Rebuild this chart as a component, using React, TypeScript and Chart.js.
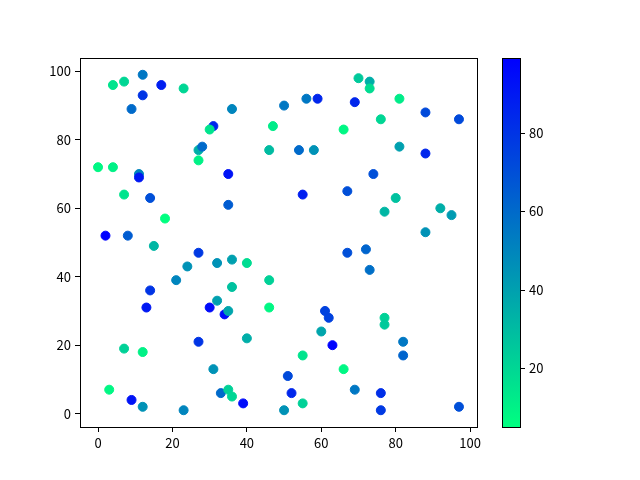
import React, { useEffect, useRef } from "react";
import { Chart, registerables } from "chart.js";

Chart.register(...registerables);

const xs = [4, 7, 12, 17, 23, 12, 9, 36, 31, 30, 47, 27, 28, 27, 0, 4, 11, 11, 35, 70, 73, 73, 81, 50, 56, 59, 69, 88, 97, 76, 66, 54, 58, 81, 88, 74, 46, 7, 14, 35, 18, 2, 8, 15, 27, 24, 32, 36, 40, 21, 46, 36, 14, 32, 13, 30, 46, 55, 67, 80, 77, 92, 95, 88, 67, 72, 73, 34, 35, 7, 12, 27, 40, 31, 3, 9, 12, 23, 33, 35, 36, 39, 61, 62, 60, 63, 77, 77, 82, 82, 55, 66, 51, 52, 55, 50, 69, 76, 76, 97];
const ys = [96, 97, 99, 96, 95, 93, 89, 89, 84, 83, 84, 77, 78, 74, 72, 72, 70, 69, 70, 98, 97, 95, 92, 90, 92, 92, 91, 88, 86, 86, 83, 77, 77, 78, 76, 70, 77, 64, 63, 61, 57, 52, 52, 49, 47, 43, 44, 45, 44, 39, 39, 37, 36, 33, 31, 31, 31, 64, 65, 63, 59, 60, 58, 53, 47, 48, 42, 29, 30, 19, 18, 21, 22, 13, 7, 4, 2, 1, 6, 7, 5, 3, 30, 28, 24, 20, 28, 26, 21, 17, 17, 13, 11, 6, 3, 1, 7, 6, 1, 2];
const cs = [15, 20, 55, 88, 20, 80, 60, 50, 85, 15, 12, 35, 60, 10, 8, 10, 50, 90, 92, 25, 35, 18, 12, 55, 55, 85, 85, 72, 72, 20, 8, 60, 45, 40, 85, 70, 30, 15, 70, 65, 5, 99, 65, 32, 78, 45, 45, 40, 18, 50, 22, 28, 80, 40, 90, 95, 8, 88, 70, 28, 32, 35, 42, 45, 70, 62, 58, 95, 38, 22, 10, 80, 35, 45, 8, 92, 45, 50, 60, 22, 20, 95, 75, 75, 38, 98, 22, 25, 55, 62, 15, 8, 72, 85, 22, 45, 55, 82, 78, 70];

const xTicks = [0, 20, 40, 60, 80, 100];
const yTicks = [0, 20, 40, 60, 80, 100];
const cbTicks = [20, 40, 60, 80];

const FONT = "'Noto Sans CJK SC', 'DejaVu Sans', sans-serif";
const FONT_SIZE = 13;

function winterR(c: number, min: number, max: number): string {
  const t = Math.max(0, Math.min(1, (c - min) / (max - min)));
  const g = Math.round(255 * (1 - t));
  const b = Math.round(255 * (0.5 + 0.5 * t));
  return `rgb(0,${g},${b})`;
}

export default function App() {
  const ref = useRef<HTMLCanvasElement | null>(null);

  useEffect(() => {
    if (!ref.current) return;
    const cMin = Math.min(...cs);
    const cMax = Math.max(...cs);
    const colors = cs.map((c) => winterR(c, cMin, cMax));

    const framePlugin = {
      id: "frameAndColorbar",
      afterDraw(chart: any) {
        const ctx = chart.ctx as CanvasRenderingContext2D;
        const a = chart.chartArea;
        ctx.save();
        // axes frame
        ctx.strokeStyle = "#000";
        ctx.lineWidth = 1;
        ctx.strokeRect(Math.round(a.left) + 0.5, Math.round(a.top) + 0.5, Math.round(a.right - a.left), Math.round(a.bottom - a.top));
        // colorbar
        const x0 = Math.round(a.right) + 25;
        const w = 18;
        const top = a.top;
        const bottom = a.bottom;
        const grad = ctx.createLinearGradient(0, bottom, 0, top);
        grad.addColorStop(0, winterR(cMin, cMin, cMax));
        grad.addColorStop(1, winterR(cMax, cMin, cMax));
        ctx.fillStyle = grad;
        ctx.fillRect(x0, top, w, bottom - top);
        ctx.strokeRect(x0 + 0.5, Math.round(top) + 0.5, w, Math.round(bottom - top));
        ctx.fillStyle = "#000";
        ctx.font = `${FONT_SIZE}px ${FONT}`;
        ctx.textAlign = "left";
        ctx.textBaseline = "middle";
        for (const v of cbTicks) {
          const y = bottom - ((v - cMin) / (cMax - cMin)) * (bottom - top);
          const yy = Math.round(y) + 0.5;
          ctx.beginPath();
          ctx.moveTo(x0 + w, yy);
          ctx.lineTo(x0 + w + 5, yy);
          ctx.stroke();
          ctx.fillText(String(v), x0 + w + 9, y);
        }
        ctx.restore();
      },
    };

    const axisCommon = {
      type: "linear" as const,
      grid: {
        display: true,
        drawOnChartArea: false,
        drawTicks: true,
        tickLength: 5,
        color: "#000",
        tickColor: "#000",
      },
      border: { display: true, color: "#000", width: 1 },
    };

    const chart = new Chart(ref.current, {
      type: "scatter",
      data: {
        datasets: [
          {
            data: xs.map((x, i) => ({ x, y: ys[i] })),
            pointBackgroundColor: colors,
            pointBorderColor: colors,
            pointRadius: 4.5,
            pointHoverRadius: 4.5,
            pointBorderWidth: 1,
          },
        ],
      },
      options: {
        animation: false,
        responsive: false,
        events: [],
        layout: { padding: { left: 0, top: 58, right: 163, bottom: 0 } },
        plugins: { legend: { display: false }, tooltip: { enabled: false } },
        scales: {
          x: {
            ...axisCommon,
            min: -4.85,
            max: 101.85,
            afterBuildTicks: (s: any) => {
              s.ticks = xTicks.map((v) => ({ value: v }));
            },
            afterFit: (s: any) => {
              s.height = 53;
            },
            ticks: {
              color: "#000",
              font: { family: FONT, size: FONT_SIZE },
              padding: 3,
              maxRotation: 0,
              autoSkip: false,
            },
          },
          y: {
            ...axisCommon,
            min: -3.9,
            max: 103.9,
            afterBuildTicks: (s: any) => {
              s.ticks = yTicks.map((v) => ({ value: v }));
            },
            afterFit: (s: any) => {
              s.width = 80;
            },
            ticks: {
              color: "#000",
              font: { family: FONT, size: FONT_SIZE },
              padding: 4,
              autoSkip: false,
            },
          },
        },
      },
      plugins: [framePlugin],
    });
    return () => chart.destroy();
  }, []);

  return (
    <div style={{ position: "absolute", left: 0, top: 0, width: 640, height: 480, background: "#fff" }}>
      <canvas ref={ref} width={640} height={480} style={{ width: 640, height: 480 }} />
    </div>
  );
}
